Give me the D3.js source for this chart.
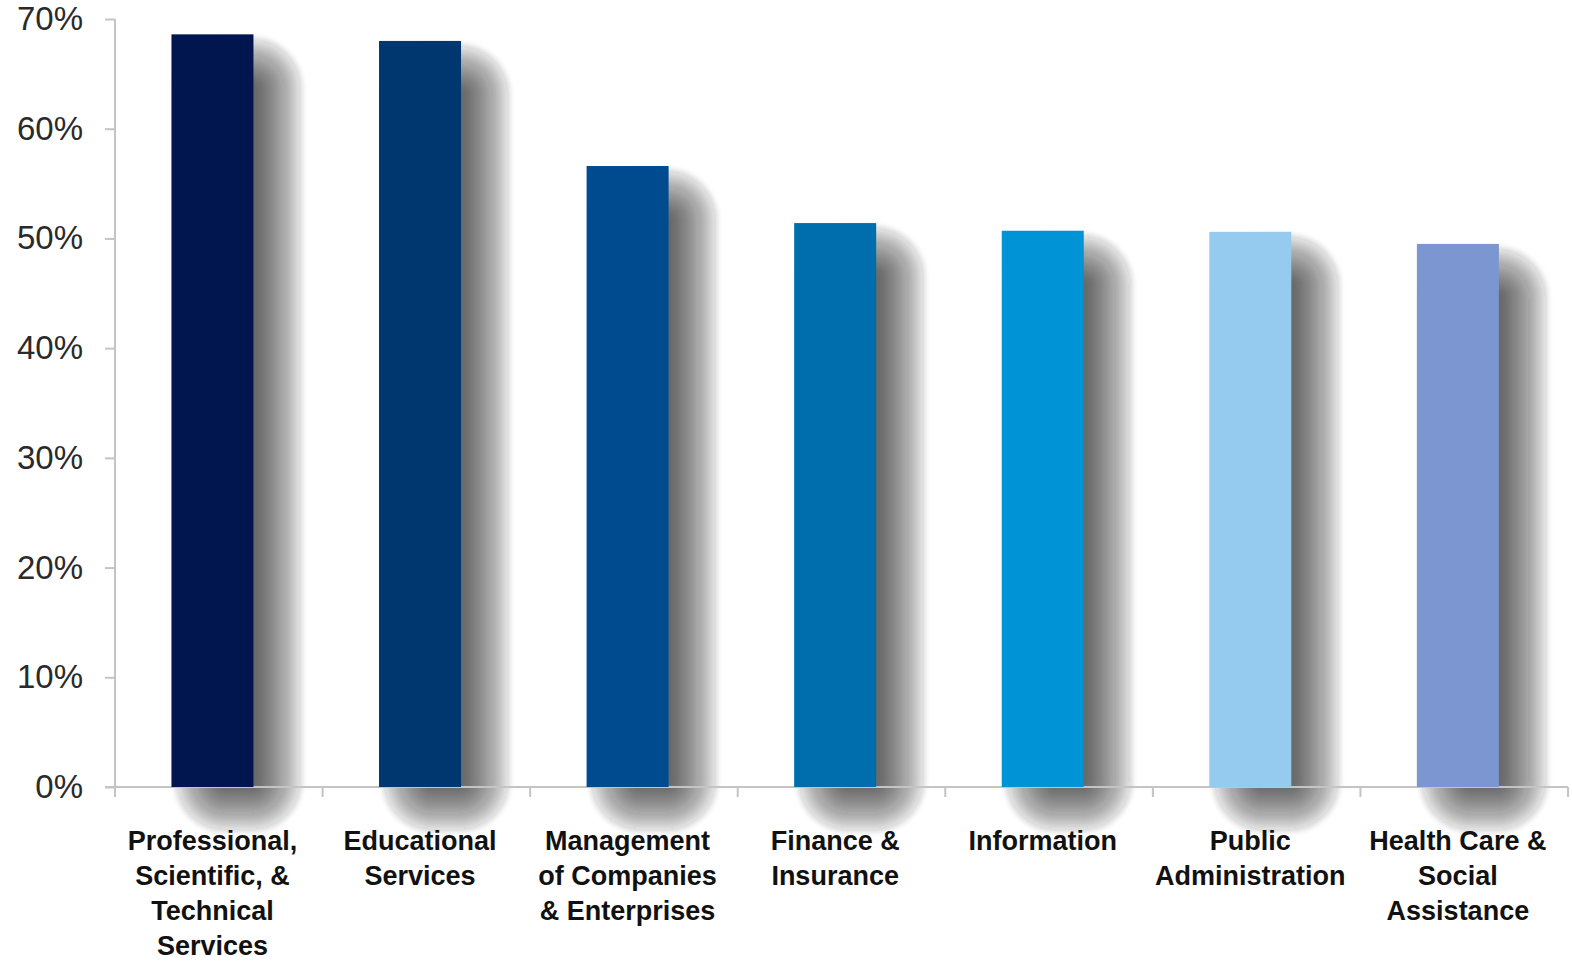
<!DOCTYPE html>
<html>
<head>
<meta charset="utf-8">
<script src="https://cdn.jsdelivr.net/npm/d3@7"></script>
<style>
  html, body { margin: 0; padding: 0; background: #ffffff; }
  svg { display: block; }
</style>
</head>
<body>
<svg id="chart" width="1572" height="961"></svg>
<script>
// Share of workers by industry
const categories = [
  "Professional, Scientific, & Technical Services",
  "Educational Services",
  "Management of Companies & Enterprises",
  "Finance & Insurance",
  "Information",
  "Public Administration",
  "Health Care & Social Assistance"
];
const labelLines = [
  ["Professional,", "Scientific, &", "Technical", "Services"],
  ["Educational", "Services"],
  ["Management", "of Companies", "& Enterprises"],
  ["Finance &", "Insurance"],
  ["Information"],
  ["Public", "Administration"],
  ["Health Care &", "Social", "Assistance"]
];
const values = [68.6, 68.0, 56.6, 51.4, 50.7, 50.6, 49.5];
const barColors = ["#01154f", "#00376f", "#004b8f", "#006ead", "#0093d6", "#94cbee", "#7b96d1"];
const yTicks = [0, 10, 20, 30, 40, 50, 60, 70];

const svg = d3.select("#chart");
const axisY = 787, topY = 19;
const left = 115, right = 1568;

const x = d3.scaleBand().domain(categories).range([left, right]).paddingInner(0).paddingOuter(0);
const y = d3.scaleLinear().domain([0, 70]).range([axisY, topY]);

const barW = x.step() * 0.395;
const barOffset = x.step() * 0.272;   // bars sit a little left of band centre, shadow takes the right side

// soft shadow: nested rounded rects stacked with low opacity give a roughly linear fall-off,
// a light blur smooths the steps
const defs = svg.append("defs");
defs.append("filter").attr("id", "soft")
  .attr("filterUnits", "userSpaceOnUse")
  .attr("x", 0).attr("y", 0).attr("width", 1572).attr("height", 961)
  .append("feGaussianBlur").attr("stdDeviation", 2.2);

const layers = d3.range(13);
const step = 3.8, radius = 52;
const shadowG = svg.append("g").attr("filter", "url(#soft)");
categories.forEach((c, i) => {
  const bx = x(c) + barOffset;
  const top = y(values[i]);
  const x0 = bx + 2, x1 = bx + barW + 50;
  const y0 = top + 2, y1 = axisY + 46;
  shadowG.append("g").selectAll("rect").data(layers).join("rect")
    .attr("x", k => x0 + k * step)
    .attr("y", k => y0 + k * step)
    .attr("width", k => Math.max(0, x1 - x0 - 2 * k * step))
    .attr("height", k => Math.max(0, y1 - y0 - 2 * k * step))
    .attr("rx", k => Math.max(2, radius - k * step))
    .attr("fill", "#222")
    .attr("fill-opacity", k => k === 0 ? 0.1 : 0.082);
});

// y axis
const yAxis = d3.axisLeft(y).tickValues(yTicks).tickSize(10).tickPadding(22)
  .tickFormat(d => d + "%");
const gy = svg.append("g").attr("transform", `translate(${left},0)`).call(yAxis);
gy.select(".domain").attr("stroke", "#c4c4c4").attr("stroke-width", 2)
  .attr("d", `M0,${topY}V${axisY + 10}`);
gy.selectAll(".tick line").attr("stroke", "#c4c4c4").attr("stroke-width", 2);
gy.selectAll(".tick text")
  .attr("font-family", "'Liberation Sans', Arial, sans-serif")
  .attr("font-size", 33)
  .attr("fill", "#2a2a2a");

// x axis baseline with ticks at category boundaries
const bounds = categories.map(c => x(c)).concat([right]);
svg.append("line")
  .attr("x1", left - 10).attr("x2", right)
  .attr("y1", axisY).attr("y2", axisY)
  .attr("stroke", "#c4c4c4").attr("stroke-width", 2);
svg.append("g").selectAll("line").data(bounds).join("line")
  .attr("x1", d => d).attr("x2", d => d)
  .attr("y1", axisY).attr("y2", axisY + 10)
  .attr("stroke", "#c4c4c4").attr("stroke-width", 2);

// bars
svg.append("g").selectAll("rect").data(categories).join("rect")
  .attr("x", c => x(c) + barOffset)
  .attr("y", (c, i) => y(values[i]))
  .attr("width", barW)
  .attr("height", (c, i) => axisY - y(values[i]))
  .attr("fill", (c, i) => barColors[i]);

// category labels
const lab = svg.append("g")
  .attr("font-family", "'Liberation Sans', Arial, sans-serif")
  .attr("font-weight", "bold")
  .attr("font-size", 27)
  .attr("fill", "#111")
  .attr("text-anchor", "middle");
categories.forEach((c, i) => {
  const cx = x(c) + barOffset + barW / 2;
  const t = lab.append("text").attr("x", cx).attr("y", 850);
  labelLines[i].forEach((ln, j) => {
    t.append("tspan").attr("x", cx).attr("dy", j === 0 ? 0 : 35).text(ln);
  });
});
</script>
</body>
</html>
